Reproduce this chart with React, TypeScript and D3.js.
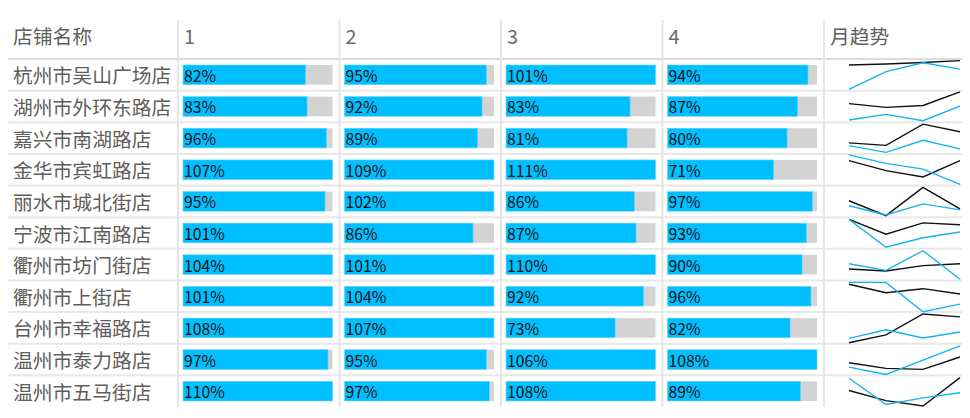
import React from "react"
import * as d3 from "d3"

// 店铺 + 每月完成率
const stores = [
  "杭州市吴山广场店",
  "湖州市外环东路店",
  "嘉兴市南湖路店",
  "金华市宾虹路店",
  "丽水市城北街店",
  "宁波市江南路店",
  "衢州市坊门街店",
  "衢州市上街店",
  "台州市幸福路店",
  "温州市泰力路店",
  "温州市五马街店",
]
const months = ["1", "2", "3", "4"]
const month1 = [82, 83, 96, 107, 95, 101, 104, 101, 108, 97, 110]
const month2 = [95, 92, 89, 109, 102, 86, 101, 104, 107, 95, 97]
const month3 = [101, 83, 81, 111, 86, 87, 110, 92, 73, 106, 108]
const month4 = [94, 87, 80, 71, 97, 93, 90, 96, 82, 108, 89]

// 月趋势 (两条线, 每行相对刻度 0-100)
const trendBlack = [
  [81, 84, 89, 95],
  [59, 47, 53, 96],
  [35, 27, 94, 70],
  [79, 47, 27, 79],
  [52, 5, 94, 26],
  [93, 46, 82, 76],
  [36, 30, 47, 53],
  [88, 61, 74, 57],
  [3, 28, 94, 85],
  [40, 22, 19, 58],
  [52, 20, 3, 93],
]
const trendBlue = [
  [4, 60, 88, 68],
  [7, 25, 5, 51],
  [26, 5, 43, 16],
  [97, 70, 52, 4],
  [36, 7, 42, 23],
  [93, 5, 35, 53],
  [53, 32, 94, 4],
  [94, 94, 1, 25],
  [17, 44, 18, 37],
  [26, 3, 48, 93],
  [91, 8, 29, 45],
]

const W = 970
const H = 418
const left = 8
const right = 962
const headTop = 20
const headBottom = 59
const bottom = 407
const colEdges = [8, 178, 339.5, 501, 662.5, 824, 962]
const font = "'Segoe UI', 'Noto Sans CJK SC', 'Noto Sans', sans-serif"
const textGray = "#605e5c"
const blue = "#00bfff"

export default function App() {
  const monthly = [month1, month2, month3, month4]
  const y = d3.scaleBand<string>().domain(stores).range([headBottom, bottom])
  const rowH = y.bandwidth()
  const xSpark = d3.scalePoint<string>().domain(months).range([849, 960])

  return (
    <svg width={W} height={H} style={{ position: "absolute", left: 0, top: 0 }} fontFamily={font}>
      <rect width={W} height={H} fill="#fff" />
      {/* 表头 */}
      <text x={13} y={35} fontSize={19.8} fill={textGray} dominantBaseline="central">
        店铺名称
      </text>
      {months.map((m, i) => (
        <text key={m} x={colEdges[i + 1] + 6} y={35} fontSize={19.8} fill="#6a6a6a" dominantBaseline="central">
          {m}
        </text>
      ))}
      <text x={colEdges[5] + 6} y={35} fontSize={19.8} fill={textGray} dominantBaseline="central">
        月趋势
      </text>

      {/* 行线 */}
      {stores.map((s, i) =>
        i === 0 ? null : (
          <line key={s} x1={left} x2={right} y1={y(s)!} y2={y(s)!} stroke="#e8e8e8" strokeWidth={2} />
        )
      )}
      <line x1={left} x2={right} y1={headBottom} y2={headBottom} stroke="#d0d0d0" strokeWidth={1.5} />
      {colEdges.slice(1, 6).map((cx) => (
        <line key={cx} x1={cx} x2={cx} y1={headTop} y2={bottom} stroke="#e6e6e6" strokeWidth={2} />
      ))}

      {stores.map((s, r) => {
        const top = y(s)!
        const mid = top + rowH / 2
        const ySpark = d3.scaleLinear().domain([0, 100]).range([top + rowH, top])
        const line = d3
          .line<number>()
          .x((_, i) => xSpark(months[i])!)
          .y((d) => ySpark(d))
        return (
          <g key={s}>
            <text x={13} y={mid} fontSize={19.8} fill={textGray} dominantBaseline="central">
              {s}
            </text>
            {monthly.map((vals, c) => {
              const x0 = colEdges[c + 1] + 5
              const bw = colEdges[c + 2] - colEdges[c + 1] - 12
              const xs = d3.scaleLinear().domain([0, 100]).range([0, bw]).clamp(true)
              return (
                <g key={c}>
                  <rect x={x0} y={top + 6} width={bw} height={rowH - 12} fill="#d3d3d3" />
                  <rect
                    x={x0}
                    y={top + 6}
                    width={xs(vals[r])}
                    height={rowH - 12}
                    fill={blue}
                    stroke="#6fd6ff"
                    strokeWidth={0.6}
                  />
                  <text x={x0 + 1} y={mid + 0.5} fontSize={15.8} fill="#111" dominantBaseline="central">
                    {vals[r]}%
                  </text>
                </g>
              )
            })}
            <path d={line(trendBlack[r])!} fill="none" stroke="#111" strokeWidth={1.4} />
            <path d={line(trendBlue[r])!} fill="none" stroke="#14b4f0" strokeWidth={1.4} />
          </g>
        )
      })}
    </svg>
  )
}
